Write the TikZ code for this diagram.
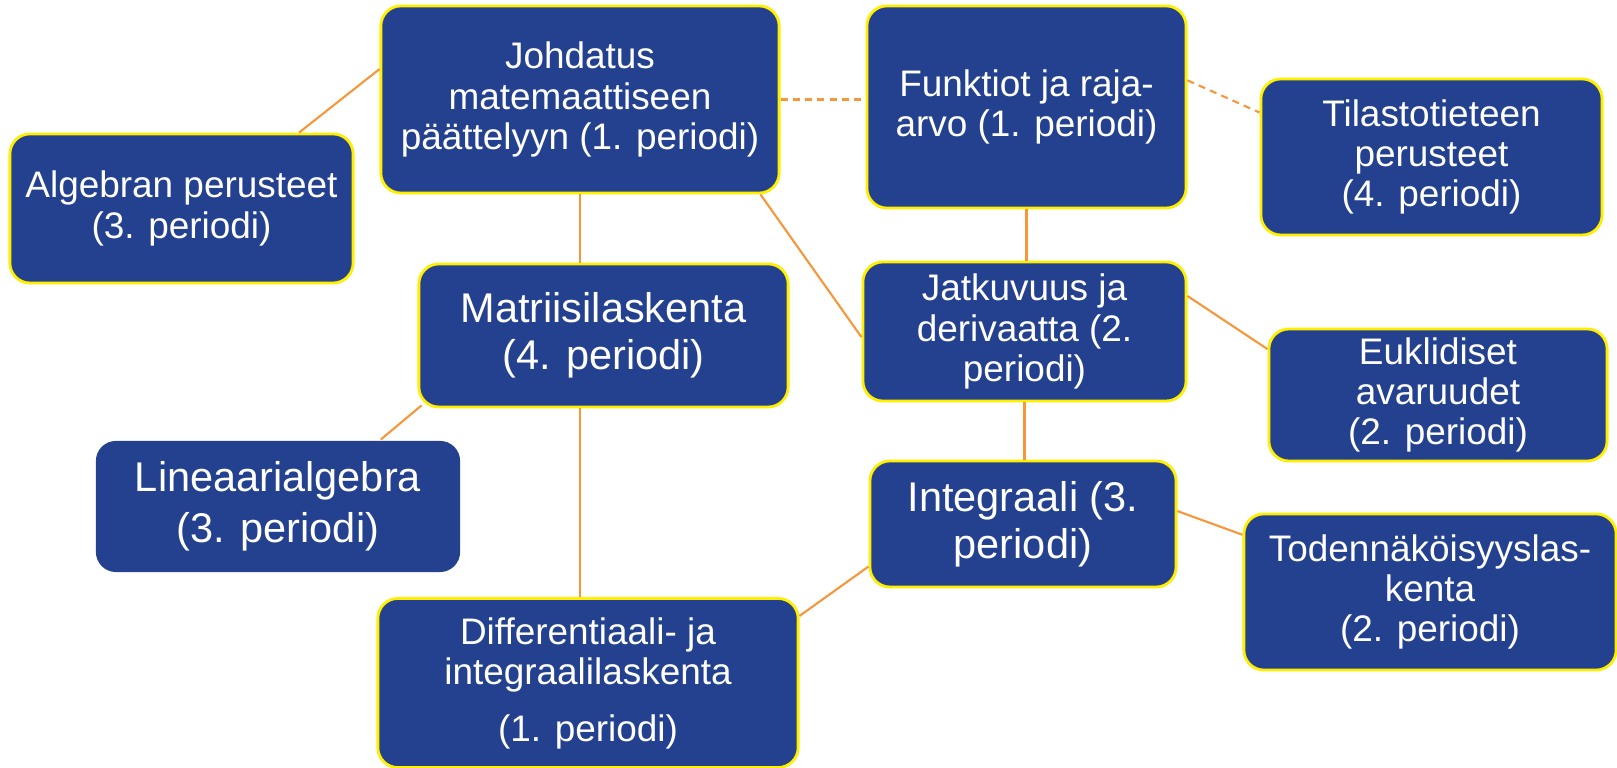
\documentclass[tikz,border=0pt]{standalone}
\usepackage{fontspec}
\setmainfont{Liberation Sans}
\usetikzlibrary{calc}
\definecolor{boxblue}{HTML}{24418F}
\definecolor{boxrim}{HTML}{FFEE00}
\definecolor{linkorange}{HTML}{F7963A}

\begin{document}
\begin{tikzpicture}[x=0.01cm, y=-0.01cm,
    box/.style={rectangle, rounded corners=0.2cm, fill=boxblue, draw=boxrim,
      line width=0.8pt, text=white, align=center, inner sep=0pt,
      font=\fontsize{10.5}{11.4}\selectfont},
    bigbox/.style={box, font=\fontsize{11.8}{13.3}\selectfont},
    conn/.style={draw=linkorange, line width=0.6pt},
    loose/.style={dash pattern=on 2pt off 1.5pt},
  ]
  \useasboundingbox (0,0) rectangle (1617,768);

  \node[box, minimum width=3.98cm, minimum height=1.87cm] (johd) at (580,99.5)
    {Johdatus\\matemaattiseen\\päättelyyn (1. periodi)};
  \node[box, minimum width=3.19cm, minimum height=2.02cm] (funk) at (1026.5,107)
    {Funktiot ja raja-\\arvo (1. periodi)};
  \node[box, minimum width=3.41cm, minimum height=1.56cm] (tila) at (1431.5,157)
    {Tilastotieteen\\perusteet\\(4. periodi)};
  \node[box, minimum width=3.43cm, minimum height=1.49cm] (alg) at (181.5,208.5)
    {Algebran perusteet\\(3. periodi)};
  \node[bigbox, minimum width=3.69cm, minimum height=1.43cm] (matr) at (603.5,335.5)
    {Matriisilaskenta\\(4. periodi)};
  \node[box, minimum width=3.23cm, minimum height=1.39cm] (jatk) at (1024.5,331.5)
    {Jatkuvuus ja\\derivaatta (2.\\periodi)};
  \node[box, minimum width=3.38cm, minimum height=1.32cm] (eukl) at (1438,395)
    {Euklidiset\\avaruudet\\(2. periodi)};
  \node[bigbox, draw=none, minimum width=3.64cm, minimum height=1.31cm,
    font=\fontsize{11.8}{14.6}\selectfont] (lin) at (278,506.5)
    {Lineaarialgebra\\(3. periodi)};
  \node[bigbox, minimum width=3.06cm, minimum height=1.26cm] (integ) at (1023,524)
    {Integraali (3.\\periodi)};
  \node[box, minimum width=3.72cm, minimum height=1.56cm] (tod) at (1430,592)
    {Todennäköisyyslas-\\kenta\\(2. periodi)};
  \node[box, minimum width=4.20cm, minimum height=1.69cm] (diff) at (588,683)
    {Differentiaali- ja\\integraalilaskenta\\[4.8pt](1. periodi)};

  \draw[conn] ($(johd.north west)!0.34!(johd.south west)$) -- ($(alg.north west)!0.84!(alg.north east)$);
  \draw[conn, loose] (johd.east) -- (johd.east -| funk.west);
  \draw[conn, loose] ($(funk.north east)!0.37!(funk.south east)$) -- ($(tila.north west)!0.22!(tila.south west)$);
  \draw[conn] (johd.south) -- (johd.south |- matr.north);
  \draw[conn] ($(johd.south west)!0.95!(johd.south east)$) -- ($(jatk.north west)!0.54!(jatk.south west)$);
  \draw[conn] (funk.south) -- (funk.south |- jatk.north);
  \draw[conn] ($(jatk.north east)!0.25!(jatk.south east)$) -- ($(eukl.north west)!0.16!(eukl.south west)$);
  \draw[conn] ($(matr.south west)+(4,-3)$) -- ($(lin.north west)!0.78!(lin.north east)$);
  \draw[conn] (johd.south |- matr.south) -- (johd.south |- diff.north);
  \draw[conn] (jatk.south) -- (jatk.south |- integ.north);
  \draw[conn] ($(integ.north east)!0.40!(integ.south east)$) -- ($(tod.north west)!0.14!(tod.south west)$);
  \draw[conn] ($(integ.north west)!0.83!(integ.south west)$) -- ($(diff.north east)!0.11!(diff.south east)$);
\end{tikzpicture}
\end{document}
